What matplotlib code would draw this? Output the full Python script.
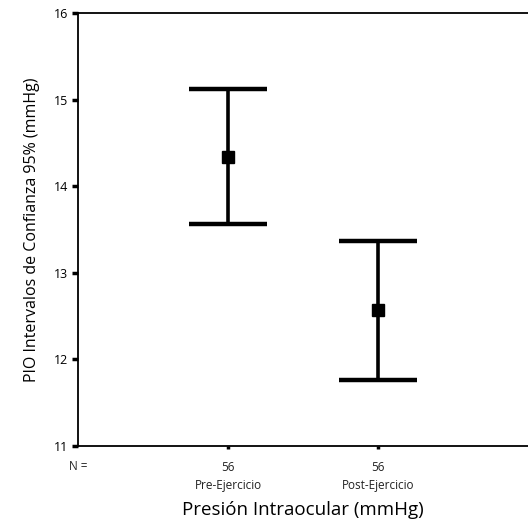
import matplotlib
matplotlib.use("Agg")
import matplotlib.pyplot as plt

plt.rcParams["font.family"] = ["Open Sans", "DejaVu Sans"]

# datos
grupos = ["Pre-Ejercicio", "Post-Ejercicio"]
n_casos = [56, 56]
medias = [14.34, 12.57]
limite_sup = [15.12, 13.37]
limite_inf = [13.56, 11.76]

posiciones = [1, 2]
err_abajo = [m - li for m, li in zip(medias, limite_inf)]
err_arriba = [ls - m for m, ls in zip(medias, limite_sup)]

fig = plt.figure(figsize=(5.28, 5.21), dpi=100)
ax = fig.add_axes([0.148, 0.144, 0.852, 0.831])

ax.errorbar(posiciones, medias, yerr=[err_abajo, err_arriba], fmt="s",
            color="black", ecolor="black", elinewidth=2.6, capsize=28,
            capthick=3.2, markersize=8)

ax.set_xlim(0, 3)
ax.set_ylim(11, 16)
ax.set_yticks([11, 12, 13, 14, 15, 16])
ax.set_xticks(posiciones)
ax.set_xticklabels([f"{n}\n{g}" for n, g in zip(n_casos, grupos)],
                   fontsize=8.5, color="#222222", linespacing=1.5)
ax.tick_params(axis="y", direction="out", length=4, width=2.5,
               labelsize=9, pad=3)
ax.tick_params(axis="x", direction="out", length=2, width=2.5, pad=9)

for lado in ["left", "bottom", "top"]:
    ax.spines[lado].set_linewidth(1.3)
ax.spines["right"].set_visible(False)

ax.text(0.0, -0.048, "N =", transform=ax.transAxes, fontsize=8.5,
        ha="center", va="center", color="#222222")

ax.set_xlabel("Presión Intraocular (mmHg)", fontsize=13.5, labelpad=6)
ax.set_ylabel("PIO Intervalos de Confianza 95% (mmHg)", fontsize=11.5,
              labelpad=10)

fig.savefig("out.png", dpi=100)
